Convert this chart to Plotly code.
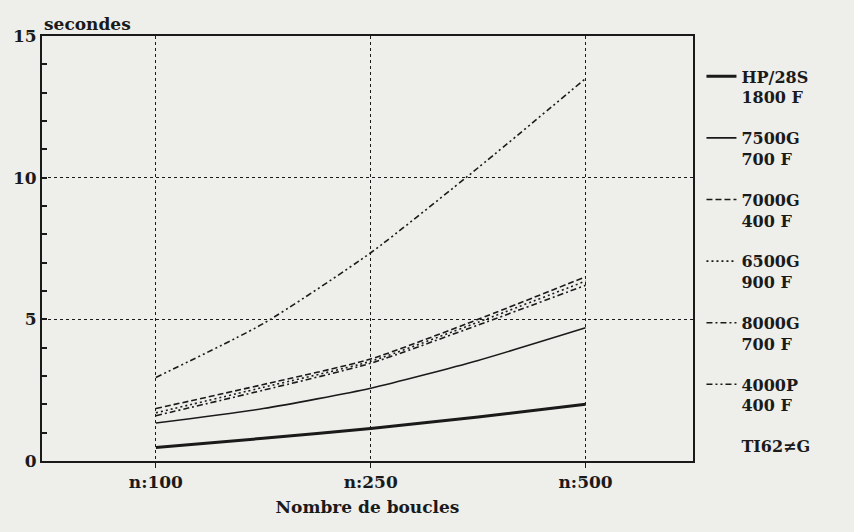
import plotly.graph_objects as go

# Category labels (x axis) and sample positions along the categorical axis
loop_labels = ["n:100", "n:250", "n:500"]
x_steps = [0, 0.5, 1, 1.5, 2]

# Series values (seconds)
hp28s = [0.48, 0.80, 1.15, 1.55, 2.0]
g7500 = [1.34, 1.85, 2.57, 3.55, 4.7]
g7000 = [1.85, 2.70, 3.60, 5.00, 6.5]
g6500 = [1.70, 2.60, 3.52, 4.90, 6.35]
g8000 = [1.60, 2.50, 3.45, 4.80, 6.2]
p4000 = [2.95, 4.85, 7.35, 10.35, 13.5]

names = ["HP/28S<br>1800 F", "7500G<br>700 F", "7000G<br>400 F",
         "6500G<br>900 F", "8000G<br>700 F", "4000P<br>400 F", "TI62≠G"]
y_ticks = [0, 5, 10, 15]

series = [hp28s, g7500, g7000, g6500, g8000, p4000]
styles = [
    dict(width=3, dash="solid"),
    dict(width=1.6, dash="solid"),
    dict(width=1.6, dash="6px,3px"),
    dict(width=1.6, dash="2px,3px"),
    dict(width=1.6, dash="6px,3px,2px,3px"),
    dict(width=1.6, dash="6px,3px,2px,3px,2px,3px"),
]

ink = "#1a1a1a"
bg = "#eeeeea"
font_family = "DejaVu Serif, Liberation Serif, serif"

def f(size):
    return dict(family=font_family, size=size, color=ink, weight="bold")

fig = go.Figure()
for i, (vals, st) in enumerate(zip(series, styles)):
    fig.add_trace(go.Scatter(
        x=x_steps, y=vals, mode="lines", name=names[i],
        legendgroup=f"g{i}",
        line=dict(color=ink, width=st["width"], dash=st["dash"],
                  shape="spline", smoothing=0.6),
        hoverinfo="skip"))
# last legend entry without a line
fig.add_trace(go.Scatter(x=[None], y=[None], mode="lines", name=names[6],
                         legendgroup="g6",
                         line=dict(color="rgba(0,0,0,0)", width=1)))

fig.update_layout(
    width=854, height=532,
    paper_bgcolor=bg, plot_bgcolor=bg,
    margin=dict(l=42, r=161, t=36, b=71),
    font=f(17),
    showlegend=True,
    legend=dict(x=1.013, xanchor="left", y=0.945, yanchor="top",
                bgcolor="rgba(0,0,0,0)", valign="top",
                traceorder="grouped", tracegroupgap=17,
                font=f(16), itemwidth=30),
    annotations=[dict(text="secondes", xref="paper", yref="paper",
                      x=0.0, y=1.0, xanchor="left", yanchor="bottom",
                      showarrow=False, yshift=0, font=f(17))],
)

fig.update_xaxes(
    range=[-0.53, 2.5], tickvals=[0, 1, 2], ticktext=loop_labels,
    showgrid=True, gridcolor=ink, griddash="dot", gridwidth=1.2,
    zeroline=False, showline=True, linecolor=ink, linewidth=2, mirror=True,
    ticks="outside", ticklen=5, tickcolor=ink,
    tickfont=f(17),
    title=dict(text="Nombre de boucles", standoff=10, font=f(17)),
)
fig.update_yaxes(
    range=[0, 15], tickvals=y_ticks,
    showgrid=True, gridcolor=ink, griddash="dot", gridwidth=1.2,
    zeroline=False, showline=True, linecolor=ink, linewidth=2, mirror=True,
    ticks="inside", ticklen=0, tickcolor=ink,
    minor=dict(dtick=1, ticks="inside", ticklen=5, tickcolor=ink, tickwidth=2, showgrid=False),
    tickfont=f(17),
)

fig.write_html(
    "out.html",
    config={"displayModeBar": False},
    post_script="document.body.style.margin='0px';document.body.style.background='#eeeeea';",
)
